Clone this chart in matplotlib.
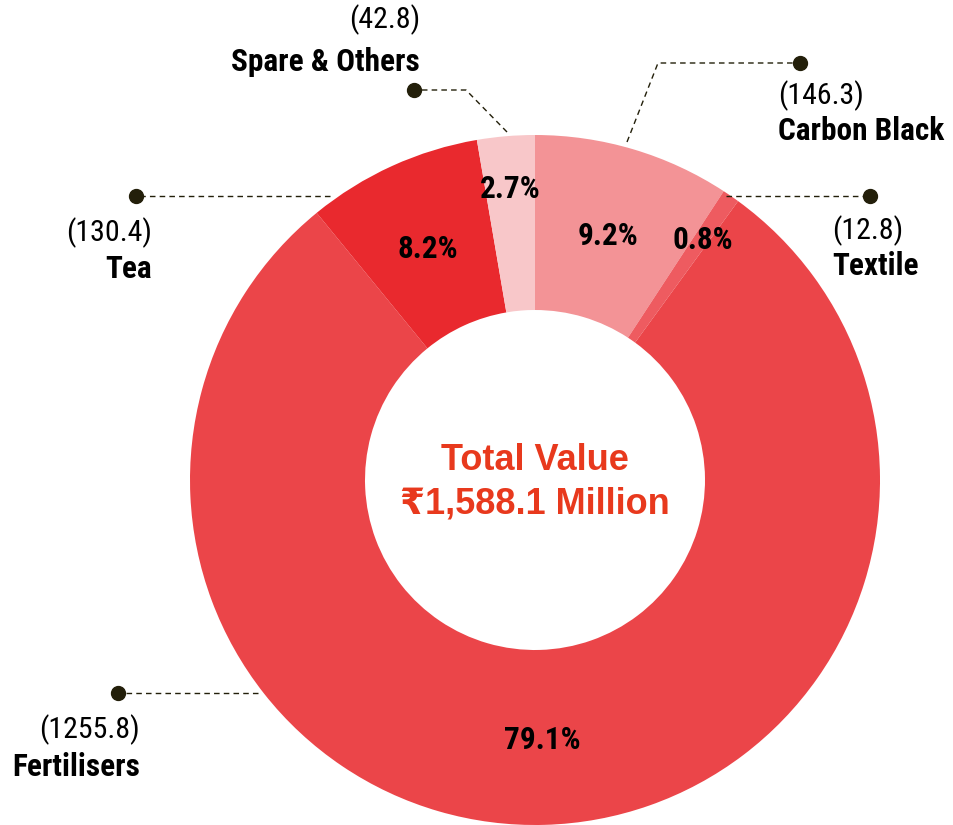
import matplotlib
matplotlib.use("Agg")
import matplotlib.pyplot as plt
from matplotlib import font_manager as fm
import numpy as np

categories = ["Carbon Black", "Textile", "Fertilisers", "Tea", "Spare & Others"]
values = [146.3, 12.8, 1255.8, 130.4, 42.8]
percents = [9.2, 0.8, 79.1, 8.2, 2.7]
colors = ["#F39396", "#EE5B60", "#EB4549", "#E9292E", "#F8C7C9"]
total_title = "Total Value"
total_label = "₹1,588.1 Million"

files = {f.fname.split("/")[-1]: f.fname for f in fm.fontManager.ttflist}


def pick(cands):
    for c in cands:
        if c in files:
            return files[c]
    return None


bold_file = pick(["LiberationSansNarrow-Bold.ttf", "RobotoCondensed-Bold.ttf",
                  "PTSansNarrow-Bold.ttf", "PT_Sans-Narrow-Web-Bold.ttf",
                  "BarlowCondensed-SemiBold.ttf", "DejaVuSansCondensed-Bold.ttf"])
reg_file = pick(["LiberationSansNarrow-Regular.ttf", "RobotoCondensed-Regular.ttf",
                 "PTSansNarrow-Regular.ttf", "PT_Sans-Narrow-Web-Regular.ttf",
                 "BarlowCondensed-Regular.ttf", "DejaVuSansCondensed.ttf"])


def fp_bold(size):
    if bold_file:
        return fm.FontProperties(fname=bold_file, size=size)
    return fm.FontProperties(family="Liberation Sans", weight="bold", size=size * 0.88)


def fp_reg(size):
    if reg_file:
        return fm.FontProperties(fname=reg_file, size=size)
    return fm.FontProperties(family="Liberation Sans", size=size * 0.88)


SANS = ["Liberation Sans", "DejaVu Sans"]
DARK = "#231F0A"

fig = plt.figure(figsize=(9.54, 8.25), dpi=100)
ax = fig.add_axes([0, 0, 1, 1])

cx, cy = 535, 480
R = 345
W = 175

# y axis is inverted (pixel-like), so counterclock in data = clockwise visually
wedges, _ = ax.pie(values, startangle=-90, counterclock=True, radius=R,
                   center=(cx, cy), colors=colors,
                   wedgeprops=dict(width=W, linewidth=0), frame=True)
ax.set_xlim(0, 954)
ax.set_ylim(825, 0)
ax.axis("off")

# percentage labels
lab_r = [R - W / 2, 295, R - W / 2, R - W / 2, 295]
start = 90.0
tot = sum(values)
for v, p, rr in zip(values, percents, lab_r):
    sweep = v / tot * 360
    mid = np.deg2rad(start - sweep / 2)
    start -= sweep
    x = cx + rr * np.cos(mid)
    y = cy - rr * np.sin(mid) + 3
    ax.text(x, y, f"{p}%", ha="center", va="center",
            fontproperties=fp_bold(22.5), color="black")

# center text
ax.text(cx, 461, total_title, ha="center", va="center", fontsize=26,
        fontweight="bold", family=SANS, color="#E8391D")
ax.text(cx, 504, total_label, ha="center", va="center", fontsize=26,
        fontweight="bold", family=SANS, color="#E8391D")

# leader lines: (points list, dot position)
leaders = {
    "Spare & Others": ([(507, 132), (466, 90), (414, 90)], (414, 90)),
    "Carbon Black": ([(627, 142), (658, 63), (800, 63)], (800, 63)),
    "Textile": ([(726, 196), (870, 196)], (870, 196)),
    "Tea": ([(330, 196), (136, 196)], (136, 196)),
    "Fertilisers": ([(258, 693), (118, 693)], (118, 693)),
}
for name, (pts, dot) in leaders.items():
    xs, ys = zip(*pts)
    ax.plot(xs, ys, color=DARK, lw=1, ls=(0, (4, 3)))
    ax.plot(*dot, "o", color=DARK, ms=10)

# labels: x, y(value), y(name), ha
lab_pos = {
    "Spare & Others": (420, 20, 62, "right"),
    "Carbon Black": (778, 96, 131, "left"),
    "Textile": (832, 231, 266, "left"),
    "Tea": (152, 233, 269, "right"),
    "Fertilisers": (140, 730, 767, "right"),
}
for name, v in zip(categories, values):
    x, yv, yn, ha = lab_pos[name]
    ax.text(x, yv, f"({v})", ha=ha, va="center",
            fontproperties=fp_reg(21.5), color="black")
    ax.text(x, yn, name, ha=ha, va="center",
            fontproperties=fp_bold(22.5), color="black")

fig.savefig("out.png", dpi=100)
